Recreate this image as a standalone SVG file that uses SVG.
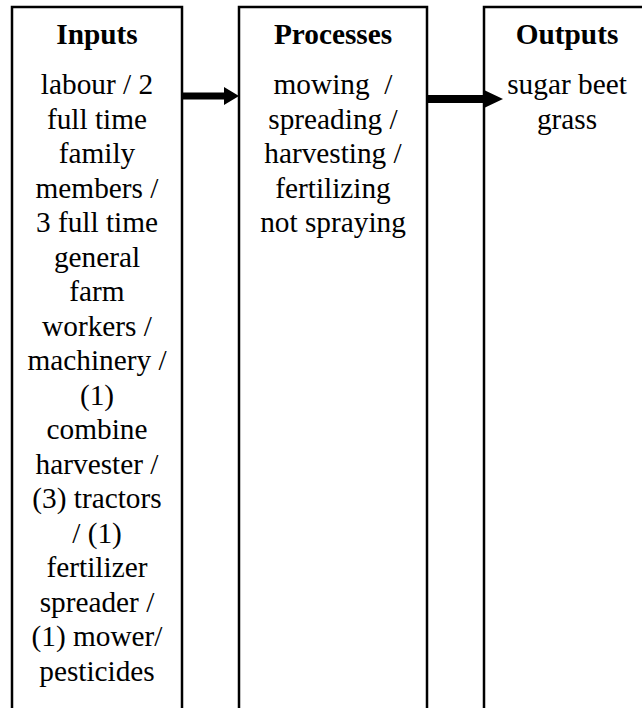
<svg xmlns="http://www.w3.org/2000/svg" width="642" height="708" viewBox="0 0 642 708" font-family="'Liberation Serif', 'Times New Roman', 'DejaVu Serif', serif">
<style>
.box{fill:#fff;stroke:#000;stroke-width:2.5}
.t{font-family:'Liberation Serif','Times New Roman','DejaVu Serif',serif;font-size:29.3px;fill:#000;text-anchor:middle}
.h{font-weight:bold}
.arr{fill:#000}
</style>
<rect width="642" height="708" fill="#fff"/>
<g id="inputs">
<rect class="box" x="12" y="7" width="170" height="720"/>
<text class="t h" x="97" y="44">Inputs</text>
<text class="t" x="97" y="94">labour / 2</text>
<text class="t" x="97" y="128.5">full time</text>
<text class="t" x="97" y="163">family</text>
<text class="t" x="97" y="197.5">members /</text>
<text class="t" x="97" y="232">3 full time</text>
<text class="t" x="97" y="266.5">general</text>
<text class="t" x="97" y="301">farm</text>
<text class="t" x="97" y="335.5">workers /</text>
<text class="t" x="97" y="370">machinery /</text>
<text class="t" x="97" y="404.5">(1)</text>
<text class="t" x="97" y="439">combine</text>
<text class="t" x="97" y="473.5">harvester /</text>
<text class="t" x="97" y="508">(3) tractors</text>
<text class="t" x="97" y="542.5">/ (1)</text>
<text class="t" x="97" y="577">fertilizer</text>
<text class="t" x="97" y="611.5">spreader /</text>
<text class="t" x="97" y="646">(1) mower/</text>
<text class="t" x="97" y="680.5">pesticides</text>
</g>
<g id="processes">
<rect class="box" x="239" y="7" width="188" height="720"/>
<text class="t h" x="333" y="44">Processes</text>
<text class="t" x="333" y="94" xml:space="preserve">mowing  /</text>
<text class="t" x="333" y="128.5">spreading /</text>
<text class="t" x="333" y="163">harvesting /</text>
<text class="t" x="333" y="197.5">fertilizing</text>
<text class="t" x="333" y="232">not spraying</text>
</g>
<g id="outputs">
<rect class="box" x="484" y="7" width="180" height="720"/>
<text class="t h" x="567" y="44">Outputs</text>
<text class="t" x="567" y="94">sugar beet</text>
<text class="t" x="567" y="128.5">grass</text>
</g>
<g id="connectors">
<path class="arr" d="M182 92.5 H224 V87 L239 96 L224 105 V99.5 H182 Z"/>
<path class="arr" d="M427 95 H484 V90 L503 99 L484 108 V103 H427 Z"/>
</g>
</svg>
